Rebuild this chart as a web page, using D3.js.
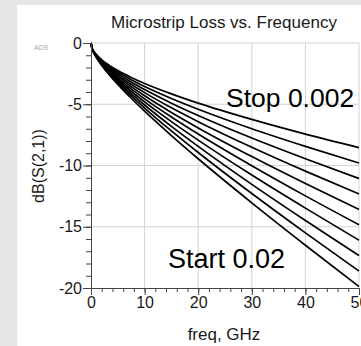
<!DOCTYPE html>
<html>
<head>
<meta charset="utf-8">
<script src="https://cdn.jsdelivr.net/npm/d3@7"></script>
<style>
  body { margin: 0; background: #e6e6e6; }
  svg { display: block; font-family: Arial, "Liberation Sans", sans-serif; }
</style>
</head>
<body>
<div id="chart"></div>
<script>
// frequencies (GHz) where the curves were read
const freqs = [0, 0.2, 0.5, 1, 2, 3.5, 5, 7.5, 10, 15, 20, 30, 40, 50];

// dB(S(2,1)) for each loss tangent, 0.002 (top) to 0.02 (bottom)
const loss002 = [0, -0.42, -0.66, -0.95, -1.37, -1.85, -2.25, -2.81, -3.30, -4.15, -4.91, -6.24, -7.44, -8.54];
const loss004 = [0, -0.42, -0.68, -0.98, -1.42, -1.94, -2.37, -3.00, -3.55, -4.53, -5.41, -7.00, -8.44, -9.80];
const loss006 = [0, -0.43, -0.69, -1.00, -1.47, -2.03, -2.50, -3.19, -3.80, -4.91, -5.92, -7.76, -9.45, -11.06];
const loss008 = [0, -0.43, -0.70, -1.03, -1.52, -2.11, -2.62, -3.37, -4.05, -5.29, -6.42, -8.51, -10.46, -12.32];
const loss010 = [0, -0.44, -0.71, -1.05, -1.57, -2.20, -2.75, -3.56, -4.31, -5.67, -6.93, -9.27, -11.47, -13.58];
const loss012 = [0, -0.44, -0.73, -1.08, -1.62, -2.29, -2.88, -3.75, -4.56, -6.04, -7.43, -10.02, -12.48, -14.84];
const loss014 = [0, -0.45, -0.74, -1.10, -1.67, -2.38, -3.00, -3.94, -4.81, -6.42, -7.93, -10.78, -13.48, -16.10];
const loss016 = [0, -0.45, -0.75, -1.13, -1.72, -2.47, -3.13, -4.13, -5.06, -6.80, -8.44, -11.54, -14.49, -17.36];
const loss018 = [0, -0.46, -0.77, -1.15, -1.77, -2.56, -3.25, -4.32, -5.31, -7.18, -8.94, -12.29, -15.50, -18.62];
const loss020 = [0, -0.46, -0.78, -1.18, -1.83, -2.64, -3.38, -4.51, -5.57, -7.56, -9.45, -13.05, -16.51, -19.88];

const series = [loss002, loss004, loss006, loss008, loss010, loss012, loss014, loss016, loss018, loss020];

const xTicks = [0, 10, 20, 30, 40, 50];
const yTicks = [0, -5, -10, -15, -20];

const width = 361, height = 346;
const svg = d3.select("#chart").append("svg")
    .attr("width", width)
    .attr("height", height);

// white panel
svg.append("rect")
    .attr("x", 17).attr("y", 5)
    .attr("width", width - 17).attr("height", height - 5)
    .attr("fill", "#fff");

const x = d3.scaleLinear().domain([0, 50]).range([91, 359]);
const y = d3.scaleLinear().domain([-20, 0]).range([288, 43]);

// grid
svg.append("g")
    .selectAll("line")
    .data(xTicks.slice(1))
    .enter().append("line")
    .attr("x1", d => x(d)).attr("x2", d => x(d))
    .attr("y1", y(0)).attr("y2", y(-20))
    .attr("stroke", "#d3d3d3");

svg.append("g")
    .selectAll("line")
    .data(yTicks.slice(0, -1))
    .enter().append("line")
    .attr("x1", x(0)).attr("x2", x(50))
    .attr("y1", d => y(d)).attr("y2", d => y(d))
    .attr("stroke", "#d3d3d3");

// curves
const line = d3.line()
    .x((d, i) => x(freqs[i]))
    .y(d => y(d))
    .curve(d3.curveMonotoneX);

svg.append("g")
    .selectAll("path")
    .data(series)
    .enter().append("path")
    .attr("d", line)
    .attr("fill", "none")
    .attr("stroke", "#000")
    .attr("stroke-width", 1.7);

// axes
const xAxis = d3.axisBottom(x).tickValues(xTicks).tickSize(7).tickPadding(2).tickFormat(d => String(d));
const yAxis = d3.axisLeft(y).tickValues(yTicks).tickSize(8).tickPadding(1).tickFormat(d => String(d));

svg.append("g").attr("transform", `translate(0,${y(-20)})`).call(xAxis);
svg.append("g").attr("transform", `translate(${x(0)},0)`).call(yAxis);

// minor ticks
svg.append("g").attr("transform", `translate(0,${y(-20)})`)
    .call(d3.axisBottom(x).tickValues(d3.range(0, 51, 2)).tickSize(4).tickFormat(""))
    .call(g => g.select(".domain").remove());
svg.append("g").attr("transform", `translate(${x(0)},0)`)
    .call(d3.axisLeft(y).tickValues(d3.range(-20, 1, 1)).tickSize(5).tickFormat(""))
    .call(g => g.select(".domain").remove());

svg.selectAll(".domain, .tick line").attr("stroke", "#444");
svg.selectAll(".tick text")
    .attr("font-size", 16)
    .attr("font-family", "Arial, 'Liberation Sans', sans-serif")
    .attr("fill", "#1a1a1a");

// labels
svg.append("text")
    .attr("x", 224).attr("y", 28)
    .attr("text-anchor", "middle")
    .attr("font-size", 17)
    .attr("fill", "#1a1a1a")
    .text("Microstrip Loss vs. Frequency");

svg.append("text")
    .attr("x", 224).attr("y", 340)
    .attr("text-anchor", "middle")
    .attr("font-size", 17)
    .attr("fill", "#1a1a1a")
    .text("freq, GHz");

svg.append("text")
    .attr("transform", "translate(44,166) rotate(-90)")
    .attr("text-anchor", "middle")
    .attr("font-size", 16)
    .attr("fill", "#1a1a1a")
    .text("dB(S(2,1))");

svg.append("text")
    .attr("x", 34).attr("y", 50)
    .attr("font-size", 7)
    .attr("fill", "#aaa")
    .text("ADS");

svg.append("text")
    .attr("x", 226).attr("y", 107)
    .attr("font-size", 26.5)
    .attr("fill", "#000")
    .text("Stop 0.002");

svg.append("text")
    .attr("x", 168).attr("y", 268)
    .attr("font-size", 27)
    .attr("fill", "#000")
    .text("Start 0.02");
</script>
</body>
</html>
